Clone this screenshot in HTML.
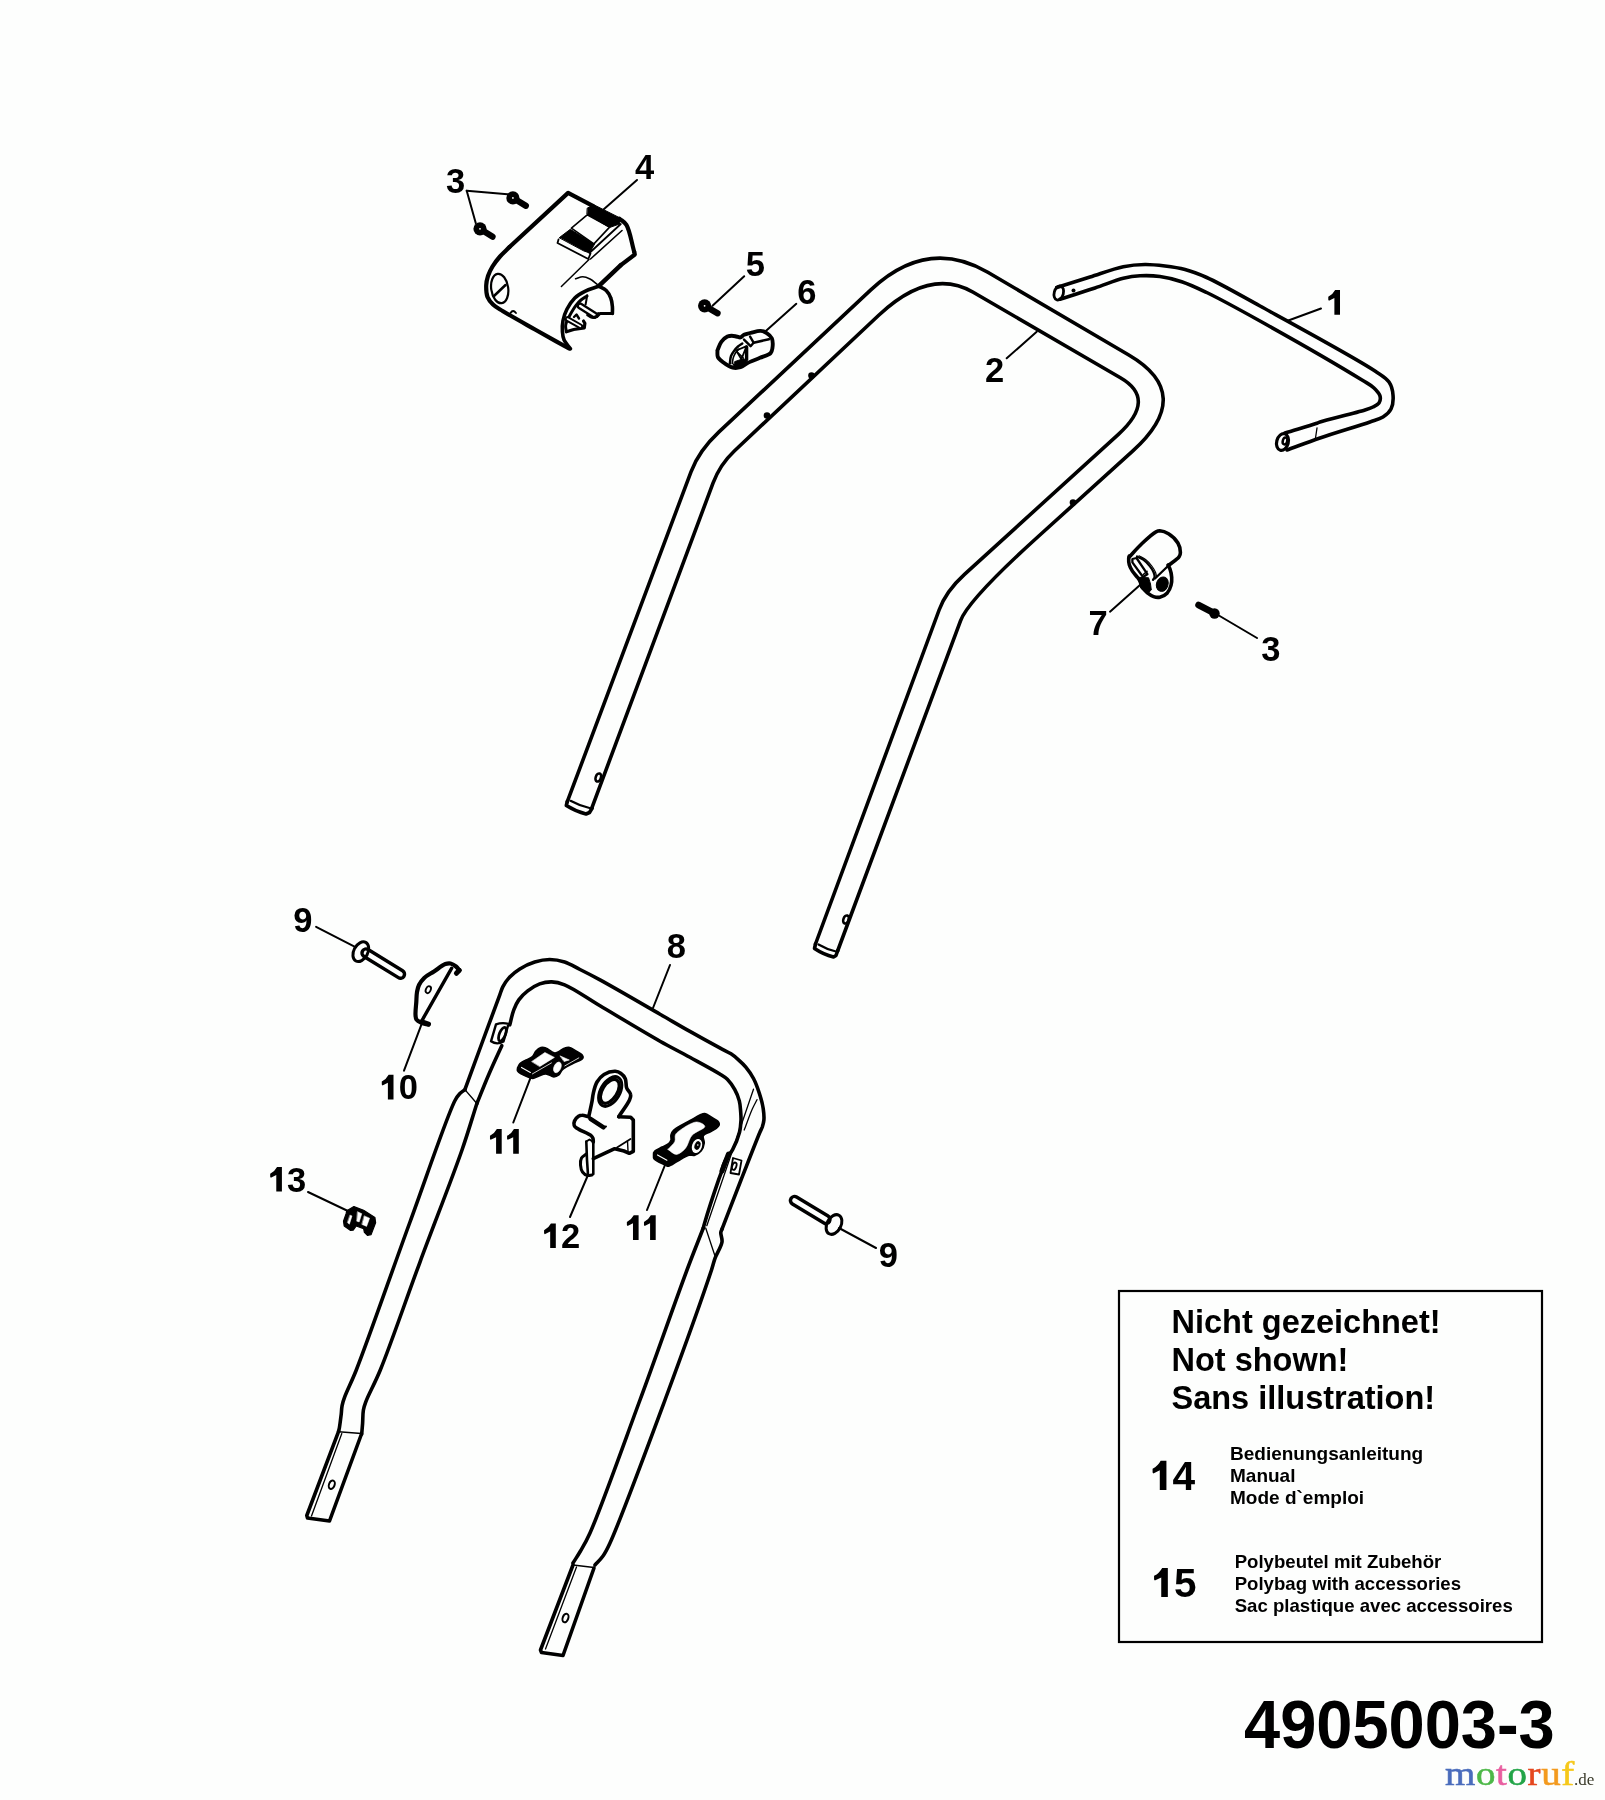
<!DOCTYPE html>
<html><head><meta charset="utf-8"><style>
html,body{margin:0;padding:0;background:#fdfefd;}
body{width:1605px;height:1800px;overflow:hidden;position:relative;font-family:"Liberation Sans",sans-serif;}
svg{position:absolute;left:0;top:0;will-change:transform;}

</style></head><body>
<svg width="1605" height="1800" viewBox="0 0 1605 1800">
<rect width="1605" height="1800" fill="#fdfefd"/>
<path d="M567.3,801.7L691,471.8Q698.9,450.7 719,431.9L870.8,289.9Q927.4,236.9 987.8,272.3L1128.8,355Q1195.7,394.2 1132.6,451.2L1038.8,536Q968.3,599.7 960.5,620.8L837.8,950.5" fill="none" stroke="#000" stroke-width="3.6" stroke-linecap="round" stroke-linejoin="round"/>
<path d="M591.7,808.3L713,483.1Q720,464.4 734.6,450.7L879,315Q930,267.1 973.2,292.2L1120.4,377.7Q1157.2,399 1118.4,434.3L964.5,574.4Q946,591.2 939.1,610L815.5,944" fill="none" stroke="#000" stroke-width="3.6" stroke-linecap="round" stroke-linejoin="round"/>
<path d="M567.3,801.5 L566.3,805.5 Q576,811.5 586,814 L589.5,812.5 L592.2,808" fill="none" stroke="#000" stroke-width="3.6" stroke-linecap="round" stroke-linejoin="round"/>
<path d="M570.5,800.8 Q580,806 589.5,808" fill="none" stroke="#000" stroke-width="2.2" stroke-linecap="round" stroke-linejoin="round"/>
<path d="M815.5,944 L814.5,948.5 Q823.5,954.5 833.5,957 L836,955.5 L837.8,950.5" fill="none" stroke="#000" stroke-width="3.6" stroke-linecap="round" stroke-linejoin="round"/>
<path d="M818.5,944.5 Q827,949.5 836,951.5" fill="none" stroke="#000" stroke-width="2.2" stroke-linecap="round" stroke-linejoin="round"/>
<ellipse cx="598.3" cy="777.5" rx="2.6" ry="4.2" transform="rotate(20 598.3 777.5)" fill="none" stroke="#000" stroke-width="2.6"/>
<ellipse cx="846" cy="919.5" rx="2.6" ry="4.2" transform="rotate(20 846 919.5)" fill="none" stroke="#000" stroke-width="2.6"/>
<circle cx="811.5" cy="375.5" r="3.3" fill="#000"/>
<circle cx="767" cy="415.5" r="3.3" fill="#000"/>
<circle cx="1073" cy="502.5" r="3.3" fill="#000"/>
<path d="M1056.7,287.5C1067.8,284 1078.9,280.5 1090,277C1101.1,273.5 1113.3,268.7 1123.3,266.7C1131.2,265.1 1137.9,264.6 1145,264.5C1151.8,264.4 1158.4,265.2 1165,266C1171.7,266.8 1178.3,267.7 1185,269.5C1192.2,271.4 1198,273.6 1206.7,277.5C1220.7,283.8 1238.9,294.4 1260,306C1291.1,323.1 1355.4,357.9 1375,371C1382.2,375.8 1386,377.6 1389,382C1391.6,385.8 1392.7,390.5 1393,395C1393.4,399.5 1392.9,405.2 1391,409C1389.3,412.4 1386.3,414.9 1383,417C1379.4,419.3 1375.8,420 1370,422C1358.8,425.9 1334.9,432.9 1320,438C1307.8,442.2 1298,446 1287,450" fill="none" stroke="#000" stroke-width="3.6" stroke-linecap="round" stroke-linejoin="round"/>
<path d="M1060,299.2C1071.7,295.5 1084,291.7 1095,288C1105,284.7 1115,280.3 1123.3,278.3C1129.5,276.8 1134.2,276.1 1140,275.8C1146.4,275.4 1153.2,275.6 1160,276.5C1167.1,277.5 1174.3,279.2 1181.7,281.7C1189.9,284.4 1196.9,287.8 1206.7,292.5C1221.3,299.5 1239.5,309.6 1260,321C1288.6,336.9 1344.7,369.3 1362,380C1368,383.8 1370.9,385 1374,388C1376.6,390.5 1379.3,393.3 1380,396C1380.6,398.3 1380.2,401.2 1379,403C1377.8,404.8 1375.2,405.9 1373,407C1370.6,408.2 1368.8,408.8 1365,410C1356.1,412.8 1326.9,419.8 1320,422C1317.9,422.7 1318,422.8 1316,423.5C1310.6,425.4 1295.3,429.8 1285,433" fill="none" stroke="#000" stroke-width="3.6" stroke-linecap="round" stroke-linejoin="round"/>
<ellipse cx="1058.8" cy="293" rx="4.6" ry="7.2" transform="rotate(15 1058.8 293)" fill="none" stroke="#000" stroke-width="2.8"/>
<circle cx="1073.5" cy="290.5" r="2" fill="#000"/>
<ellipse cx="1282.5" cy="442" rx="5.8" ry="8.5" transform="rotate(15 1282.5 442)" fill="none" stroke="#000" stroke-width="3.2"/>
<ellipse cx="1285" cy="441" rx="2.2" ry="3.5" transform="rotate(15 1285 441)" fill="none" stroke="#000" stroke-width="2.5"/>
<line x1="1317" y1="428" x2="1315.5" y2="438" stroke="#000" stroke-width="1.3" stroke-linecap="round"/>
<path d="M464.9,1089.6C470.6,1074.1 476.2,1058.7 482,1043C487.9,1027.1 496.3,1004.2 499.8,994.9C501.2,991.1 501.4,989.6 502.8,986.9C504.5,983.6 507,979.9 509.8,976.9C512.7,973.9 516,971.3 519.8,968.9C524.1,966.2 529.6,963.6 534.7,962C539.6,960.5 544.7,959.5 549.7,959.5C554.7,959.5 559.7,960.4 564.6,962C569.8,963.7 574.6,966.8 580,969.5C586.3,972.6 591.6,975.3 600,979.9C614.7,987.9 643.5,1004.7 660,1014.2C671.7,1020.9 679.9,1025.8 689.9,1031.4C699.8,1037 712.2,1043.8 719.8,1047.9C724.4,1050.4 727.7,1051.7 731,1053.8C733.9,1055.7 736.1,1057.6 738.5,1059.8C741.1,1062.1 743.6,1064.4 746,1067.3C748.7,1070.5 751.3,1074.4 753.5,1078.5C755.9,1083 757.8,1088.5 759.4,1093.5C761,1098.4 762.5,1103.7 763.2,1108.4C763.8,1112.5 764.2,1116.6 763.9,1120C763.7,1122.6 763,1124.8 762.3,1127C761.6,1129 761,1129.7 759.8,1132.5C756.4,1140.5 747.3,1164 741,1180C734.6,1196.2 728.3,1212.8 722,1229.2" fill="none" stroke="#000" stroke-width="3.6" stroke-linecap="round" stroke-linejoin="round"/>
<path d="M464.9,1089.6C463.2,1090.9 461.5,1092 459.9,1093.6C458.1,1095.5 457.1,1096.6 455,1100.5C446.9,1115.9 425.6,1179.5 410,1222C392.8,1268.9 367.9,1340.7 356.3,1370C351.3,1382.6 347.2,1390.1 344.8,1396.7C343.4,1400.4 342.7,1402.6 342.1,1405.6C341.5,1408.5 341.6,1411.2 341.2,1414.4C340.7,1418.4 339.9,1424.8 339.4,1427.8C339.1,1429.4 338.9,1430.1 338.6,1431.3" fill="none" stroke="#000" stroke-width="3.6" stroke-linecap="round" stroke-linejoin="round"/>
<path d="M476.9,1103.5C480.9,1093.7 484.8,1083.7 489,1074C493.1,1064.4 497.5,1055.1 501.8,1045.7" fill="none" stroke="#000" stroke-width="3.6" stroke-linecap="round" stroke-linejoin="round"/>
<path d="M509.8,1024.8C511.1,1019.8 512.1,1014.2 513.8,1009.8C515.2,1006.1 516.6,1003 518.8,999.9C521.2,996.6 524.3,993.5 527.7,990.9C531.2,988.2 535.6,985.4 539.7,983.9C543.6,982.5 547.6,981.8 551.7,981.9C555.9,982 559.4,982.8 564.6,984.9C573.7,988.5 586.7,997.9 600,1005.8C617.4,1016.1 643.4,1031.8 660,1041.2C671.6,1047.7 680,1051.8 689.9,1057.3C699.9,1062.8 713.2,1069.9 719.8,1074C723.2,1076.1 725,1077 727.3,1079.3C730,1082 732.8,1086 734.8,1089.7C736.8,1093.3 738.3,1097.1 739.3,1100.9C740.3,1104.6 740.4,1108.7 740.7,1112.1C740.9,1115 741.1,1117.1 741,1120C740.8,1123.7 740.6,1127.9 739.5,1132.3C738.1,1137.7 735,1145.3 732.5,1149.8C730.7,1153 728.5,1154.9 727,1157.5C725.6,1160 724.4,1162.5 723.5,1165C722.6,1167.3 722.3,1169.6 721.5,1172C720.6,1174.6 719.8,1176.4 718.5,1180.2C715.5,1188.9 706.6,1216.3 704.5,1223.4C703.8,1225.7 703.7,1226.5 703.3,1228" fill="none" stroke="#000" stroke-width="3.6" stroke-linecap="round" stroke-linejoin="round"/>
<path d="M728.5,1154 L722,1171" fill="none" stroke="#000" stroke-width="5" stroke-linecap="round" stroke-linejoin="round"/>
<path d="M476.9,1103.5C471.9,1119 468.5,1131.2 462,1150C451.8,1179.4 433.7,1225 420,1262C406.5,1298.3 390.6,1345 380.3,1370C374.7,1383.6 368.9,1393.8 366.1,1401.1C364.7,1404.9 364,1406.7 363.4,1410C362.7,1414 362.9,1419.1 362.6,1423.3C362.3,1427.1 362,1430.4 361.7,1434" fill="none" stroke="#000" stroke-width="3.6" stroke-linecap="round" stroke-linejoin="round"/>
<line x1="464.9" y1="1089.6" x2="476.9" y2="1103.5" stroke="#000" stroke-width="1.4" stroke-linecap="round"/>
<path d="M338.6,1431.3 L306.8,1515.5 L307.5,1518 L329.5,1521 L361.5,1434" fill="none" stroke="#000" stroke-width="3.6" stroke-linecap="round" stroke-linejoin="round"/>
<line x1="341.8" y1="1433.5" x2="311.5" y2="1516" stroke="#000" stroke-width="1.3" stroke-linecap="round"/>
<line x1="338.6" y1="1431.8" x2="361.5" y2="1433.6" stroke="#000" stroke-width="1.5" stroke-linecap="round"/>
<ellipse cx="331.8" cy="1484.7" rx="2.8" ry="4.4" transform="rotate(20 331.8 1484.7)" fill="none" stroke="#000" stroke-width="2"/>
<path d="M703.3,1228C697.9,1242 693.7,1252.1 687,1270C675.2,1301.4 656.1,1356.5 640,1400C623.7,1444.1 600.6,1509.3 590,1533C586,1542 583.6,1545.7 580.5,1551C577.9,1555.5 575.5,1559 573,1563" fill="none" stroke="#000" stroke-width="3.6" stroke-linecap="round" stroke-linejoin="round"/>
<path d="M722,1229.2C721.6,1230.4 720.9,1231.2 720.8,1232.7C720.6,1235 722.5,1238.5 722,1242C721.3,1246.8 716.8,1253.4 715,1258.4C713.5,1262.6 713.4,1264.1 711.5,1270C704.9,1290 681.4,1355.7 665,1400C647.7,1446.6 620.1,1521.1 610,1543C606.9,1549.8 605.7,1552.2 603,1556C600.6,1559.4 597.7,1562 595,1565" fill="none" stroke="#000" stroke-width="3.6" stroke-linecap="round" stroke-linejoin="round"/>
<path d="M573,1565 L540.5,1650 L541.5,1652.5 L563,1655.5 L594,1568" fill="none" stroke="#000" stroke-width="3.6" stroke-linecap="round" stroke-linejoin="round"/>
<line x1="576.5" y1="1567" x2="545.5" y2="1649" stroke="#000" stroke-width="1.3" stroke-linecap="round"/>
<line x1="573" y1="1565" x2="594" y2="1567.5" stroke="#000" stroke-width="1.5" stroke-linecap="round"/>
<ellipse cx="565.5" cy="1618" rx="2.8" ry="4.4" transform="rotate(20 565.5 1618)" fill="none" stroke="#000" stroke-width="2"/>
<line x1="753.5" y1="1089.2" x2="706.8" y2="1225.7" stroke="#000" stroke-width="1.3" stroke-linecap="round"/>
<path d="M757,1099.7C755.4,1102.8 754,1105.2 752.3,1109C749.8,1114.5 746.9,1123 744.2,1130" fill="none" stroke="#000" stroke-width="1.3" stroke-linecap="round" stroke-linejoin="round"/>
<line x1="705.7" y1="1228" x2="715" y2="1256" stroke="#000" stroke-width="1.3" stroke-linecap="round"/>
<path d="M496,1024.3 Q502,1022.3 508.5,1023.8 L503.5,1041.5 Q497,1045.3 491,1041.3 Z" fill="none" stroke="#000" stroke-width="2.4" stroke-linecap="round" stroke-linejoin="round"/>
<ellipse cx="502.4" cy="1034.2" rx="3" ry="7.3" transform="rotate(22 502.4 1034.2)" fill="none" stroke="#000" stroke-width="2.8"/>
<path d="M733,1158 L741.5,1160.5 L739,1174.5 L730.5,1173 Z" fill="none" stroke="#000" stroke-width="1.8" stroke-linecap="round" stroke-linejoin="round"/>
<ellipse cx="734.3" cy="1166.2" rx="2" ry="3.8" transform="rotate(20 734.3 1166.2)" fill="none" stroke="#000" stroke-width="1.8"/>
<line x1="466.7" y1="190.8" x2="507.5" y2="194.2" stroke="#000" stroke-width="2.0" stroke-linecap="round"/>
<line x1="466.7" y1="190.8" x2="475.8" y2="223.3" stroke="#000" stroke-width="2.0" stroke-linecap="round"/>
<line x1="637" y1="180" x2="603.5" y2="209.5" stroke="#000" stroke-width="2.0" stroke-linecap="round"/>
<line x1="744.2" y1="276.3" x2="712.5" y2="305.8" stroke="#000" stroke-width="2.0" stroke-linecap="round"/>
<line x1="796.3" y1="303.8" x2="765" y2="331.7" stroke="#000" stroke-width="2.0" stroke-linecap="round"/>
<line x1="1006.7" y1="358.3" x2="1036.7" y2="331.7" stroke="#000" stroke-width="2.0" stroke-linecap="round"/>
<line x1="1287" y1="321" x2="1321" y2="308.5" stroke="#000" stroke-width="2.0" stroke-linecap="round"/>
<line x1="1110" y1="611.7" x2="1140" y2="585" stroke="#000" stroke-width="2.0" stroke-linecap="round"/>
<line x1="1218" y1="615" x2="1257" y2="638" stroke="#000" stroke-width="2.0" stroke-linecap="round"/>
<line x1="316.1" y1="926.8" x2="356" y2="947.3" stroke="#000" stroke-width="2.0" stroke-linecap="round"/>
<line x1="670" y1="965" x2="653" y2="1008" stroke="#000" stroke-width="2.0" stroke-linecap="round"/>
<line x1="421.4" y1="1024.6" x2="404" y2="1070.7" stroke="#000" stroke-width="2.0" stroke-linecap="round"/>
<line x1="530.2" y1="1078.6" x2="513.3" y2="1122.5" stroke="#000" stroke-width="2.0" stroke-linecap="round"/>
<line x1="308" y1="1192" x2="350" y2="1212" stroke="#000" stroke-width="2.0" stroke-linecap="round"/>
<line x1="570" y1="1217" x2="588" y2="1175" stroke="#000" stroke-width="2.0" stroke-linecap="round"/>
<line x1="647" y1="1210" x2="665" y2="1165" stroke="#000" stroke-width="2.0" stroke-linecap="round"/>
<line x1="839" y1="1228" x2="876" y2="1248" stroke="#000" stroke-width="2.0" stroke-linecap="round"/>
<text x="445.9" y="193.1" font-family="Liberation Sans" font-weight="bold" font-size="34.5">3</text>
<text x="634.9" y="179.1" font-family="Liberation Sans" font-weight="bold" font-size="34.5">4</text>
<text x="745.8" y="276.3" font-family="Liberation Sans" font-weight="bold" font-size="34.5">5</text>
<text x="797.2" y="303.6" font-family="Liberation Sans" font-weight="bold" font-size="34.5">6</text>
<text x="985.1" y="381.7" font-family="Liberation Sans" font-weight="bold" font-size="34.5">2</text>
<path d="M0.243,0 L0.243,-0.481 L0.085,-0.405 L0.066,-0.43 L0.066,-0.52 Q0.2,-0.59 0.265,-0.716 L0.406,-0.716 L0.406,0 Z" transform="translate(1326 314.7) scale(34.5)" fill="#000"/>
<text x="1088.5" y="635.1" font-family="Liberation Sans" font-weight="bold" font-size="34.5">7</text>
<text x="1261.2" y="660.9" font-family="Liberation Sans" font-weight="bold" font-size="34.5">3</text>
<text x="293.3" y="932.4" font-family="Liberation Sans" font-weight="bold" font-size="34.5">9</text>
<text x="666.8" y="958.4" font-family="Liberation Sans" font-weight="bold" font-size="34.5">8</text>
<path d="M0.243,0 L0.243,-0.481 L0.085,-0.405 L0.066,-0.43 L0.066,-0.52 Q0.2,-0.59 0.265,-0.716 L0.406,-0.716 L0.406,0 Z" transform="translate(379.5 1099.4) scale(34.5)" fill="#000"/>
<text x="398.7" y="1099.4" font-family="Liberation Sans" font-weight="bold" font-size="34.5">0</text>
<path d="M0.243,0 L0.243,-0.481 L0.085,-0.405 L0.066,-0.43 L0.066,-0.52 Q0.2,-0.59 0.265,-0.716 L0.406,-0.716 L0.406,0 Z" transform="translate(487.7 1153.8) scale(34.5)" fill="#000"/>
<path d="M0.243,0 L0.243,-0.481 L0.085,-0.405 L0.066,-0.43 L0.066,-0.52 Q0.2,-0.59 0.265,-0.716 L0.406,-0.716 L0.406,0 Z" transform="translate(504.8 1153.8) scale(34.5)" fill="#000"/>
<path d="M0.243,0 L0.243,-0.481 L0.085,-0.405 L0.066,-0.43 L0.066,-0.52 Q0.2,-0.59 0.265,-0.716 L0.406,-0.716 L0.406,0 Z" transform="translate(267.9 1191.6) scale(34.5)" fill="#000"/>
<text x="287.1" y="1191.6" font-family="Liberation Sans" font-weight="bold" font-size="34.5">3</text>
<path d="M0.243,0 L0.243,-0.481 L0.085,-0.405 L0.066,-0.43 L0.066,-0.52 Q0.2,-0.59 0.265,-0.716 L0.406,-0.716 L0.406,0 Z" transform="translate(541.8 1248.1) scale(34.5)" fill="#000"/>
<text x="561" y="1248.1" font-family="Liberation Sans" font-weight="bold" font-size="34.5">2</text>
<path d="M0.243,0 L0.243,-0.481 L0.085,-0.405 L0.066,-0.43 L0.066,-0.52 Q0.2,-0.59 0.265,-0.716 L0.406,-0.716 L0.406,0 Z" transform="translate(624.6 1239.9) scale(34.5)" fill="#000"/>
<path d="M0.243,0 L0.243,-0.481 L0.085,-0.405 L0.066,-0.43 L0.066,-0.52 Q0.2,-0.59 0.265,-0.716 L0.406,-0.716 L0.406,0 Z" transform="translate(641.7 1239.9) scale(34.5)" fill="#000"/>
<text x="878.8" y="1266.9" font-family="Liberation Sans" font-weight="bold" font-size="34.5">9</text>
<rect x="1119" y="1291" width="423" height="351" fill="none" stroke="#000" stroke-width="2.2"/>
<text x="1171.5" y="1332.5" font-family="Liberation Sans" font-weight="bold" font-size="32.5">Nicht gezeichnet!</text>
<text x="1171.5" y="1370.5" font-family="Liberation Sans" font-weight="bold" font-size="32.5">Not shown!</text>
<text x="1171.5" y="1409" font-family="Liberation Sans" font-weight="bold" font-size="32.5">Sans illustration!</text>
<path d="M0.243,0 L0.243,-0.481 L0.085,-0.405 L0.066,-0.43 L0.066,-0.52 Q0.2,-0.59 0.265,-0.716 L0.406,-0.716 L0.406,0 Z" transform="translate(1149.9 1489.9) scale(40.7)" fill="#000"/>
<text x="1172.5" y="1489.9" font-family="Liberation Sans" font-weight="bold" font-size="40.7">4</text>
<text x="1230" y="1460" font-family="Liberation Sans" font-weight="bold" font-size="19">Bedienungsanleitung</text>
<text x="1230" y="1482" font-family="Liberation Sans" font-weight="bold" font-size="19">Manual</text>
<text x="1230" y="1503.6" font-family="Liberation Sans" font-weight="bold" font-size="19">Mode d`emploi</text>
<path d="M0.243,0 L0.243,-0.481 L0.085,-0.405 L0.066,-0.43 L0.066,-0.52 Q0.2,-0.59 0.265,-0.716 L0.406,-0.716 L0.406,0 Z" transform="translate(1151.4 1596.9) scale(40.5)" fill="#000"/>
<text x="1173.9" y="1596.9" font-family="Liberation Sans" font-weight="bold" font-size="40.5">5</text>
<text x="1234.7" y="1568" font-family="Liberation Sans" font-weight="bold" font-size="18.6">Polybeutel mit Zubehör</text>
<text x="1234.7" y="1590" font-family="Liberation Sans" font-weight="bold" font-size="18.6">Polybag with accessories</text>
<text x="1234.7" y="1612" font-family="Liberation Sans" font-weight="bold" font-size="18.6">Sac plastique avec accessoires</text>
<text x="1244" y="1747.6" font-family="Liberation Sans" font-weight="bold" font-size="65" transform="translate(0 1747.6) scale(1 1.042) translate(0 -1747.6)">4905003-3</text>
<text x="1445" y="1785.4" font-family="Liberation Serif" font-size="39" letter-spacing="0.6" stroke-width="0.6" transform="translate(0 1785.4) scale(1 0.89) translate(0 -1785.4)"><tspan fill="#4a6cbc" stroke="#4a6cbc">m</tspan><tspan fill="#4db848" stroke="#4db848">o</tspan><tspan fill="#e85fa0" stroke="#e85fa0">t</tspan><tspan fill="#22a447" stroke="#22a447">o</tspan><tspan fill="#e5471e" stroke="#e5471e">r</tspan><tspan fill="#f39a1e" stroke="#f39a1e">u</tspan><tspan fill="#f6c81a" stroke="#f6c81a">f</tspan></text>
<text x="1574" y="1785.4" font-family="Liberation Serif" font-size="17" fill="#3a3a2a">.de</text>
<path d="M509.5,247 L568.1,192.9 L592.8,205.8" fill="none" stroke="#000" stroke-width="4.2" stroke-linecap="round" stroke-linejoin="round"/>
<path d="M509.5,247C506.3,250.2 502.9,253.2 500,256.5C497.2,259.7 494.5,263.1 492.5,266.5C490.6,269.6 489.1,272.8 488,276C487,279.1 486.3,282.1 486.2,285.4C486.1,289.1 486.2,293.7 487.5,297C488.7,299.9 490.7,302.3 493,304.5C495.7,307.1 498.7,308.5 503,311.2C510.6,315.9 524.2,323.4 535,329.5C546.1,335.8 557.7,342.2 569,348.5" fill="none" stroke="#000" stroke-width="4.2" stroke-linecap="round" stroke-linejoin="round"/>
<path d="M619.5,218.7C621.8,220.8 624.4,221.7 626.4,224.9C629.9,230.5 631.6,242.8 634.2,251.8" fill="none" stroke="#000" stroke-width="4.2" stroke-linecap="round" stroke-linejoin="round"/>
<path d="M634.2,251.8 L634.8,254.5 L620.8,265.2" fill="none" stroke="#000" stroke-width="4.2" stroke-linecap="round" stroke-linejoin="round"/>
<path d="M620.8,265.2 L599.5,285.4" fill="none" stroke="#000" stroke-width="4.5" stroke-linecap="round" stroke-linejoin="round"/>
<path d="M587.5,208 L593.9,204.8 L620.5,218.2 L619.5,224 L609.6,227.5 L587.2,214.2Z" fill="#000" stroke="#000" stroke-width="1" stroke-linecap="round" stroke-linejoin="round"/>
<path d="M559.5,237.5 L570.3,229.3 L594.5,244.3 L589.4,252.9 L584,251Z" fill="#000" stroke="#000" stroke-width="1" stroke-linecap="round" stroke-linejoin="round"/>
<path d="M571.4,228.2 L587.2,214.8 L609.6,227.1 L593.9,243.9Z" fill="none" stroke="#000" stroke-width="1.6" stroke-linecap="round" stroke-linejoin="round"/>
<path d="M558.5,239.4 L557.5,243 L588.3,259 L590.5,253.5" fill="none" stroke="#000" stroke-width="1.8" stroke-linecap="round" stroke-linejoin="round"/>
<path d="M589.4,253 L620.8,224" fill="none" stroke="#000" stroke-width="1.8" stroke-linecap="round" stroke-linejoin="round"/>
<path d="M590.5,259 L622,230.5" fill="none" stroke="#000" stroke-width="1.6" stroke-linecap="round" stroke-linejoin="round"/>
<line x1="561.4" y1="286.5" x2="589" y2="259.5" stroke="#000" stroke-width="1.5" stroke-linecap="round"/>
<path d="M575.6,278.7C578,278 580.3,276.7 582.7,276.7C585.1,276.7 587.7,277.8 590,279C592.5,280.3 594.8,282.5 597.2,284.3" fill="none" stroke="#000" stroke-width="1.6" stroke-linecap="round" stroke-linejoin="round"/>
<path d="M598.4,286.3C593.9,288 589,289.2 584.9,291.3C581.2,293.2 577.7,295.1 574.8,298C571.7,301.1 568.9,305.4 566.9,309.3C565.1,312.9 563.7,316.7 563,320.5C562.3,324.2 562.1,328.2 562.4,331.7C562.6,334.7 562.9,337.4 564.1,340.1C565.4,343.1 568.4,345.9 570.5,348.8" fill="none" stroke="#000" stroke-width="3.6" stroke-linecap="round" stroke-linejoin="round"/>
<path d="M598.4,286C601,287.5 604.1,288.5 606.2,290.5C608.2,292.5 609.7,295.1 610.7,297.8C611.8,300.5 612.1,303.9 612.4,306.7C612.6,309.1 612.4,311.2 612.4,313.5" fill="none" stroke="#000" stroke-width="3.6" stroke-linecap="round" stroke-linejoin="round"/>
<path d="M612.4,313.5 L600,313.5 L597,316.5" fill="none" stroke="#000" stroke-width="3" stroke-linecap="round" stroke-linejoin="round"/>
<line x1="580.2" y1="306" x2="594.8" y2="315.2" stroke="#000" stroke-width="7" stroke-linecap="round"/>
<line x1="580.2" y1="306" x2="594.8" y2="315.2" stroke="#fdfefd" stroke-width="2.4" stroke-linecap="round"/>
<path d="M587.2,295.2C586.9,296.8 586.7,298.4 586.4,300C586.1,301.5 585.9,303 585.6,304.5" fill="none" stroke="#000" stroke-width="2" stroke-linecap="round" stroke-linejoin="round"/>
<path d="M587,296C585,297.3 582.8,298.5 581,300C579.2,301.5 577.8,303.1 576.2,305.2C574.1,307.9 571.7,312 570,315C568.6,317.5 567.2,319.9 566.5,322C566,323.5 565.7,324.6 565.6,326.1C565.5,327.8 566.1,329.8 566.4,331.7" fill="none" stroke="#000" stroke-width="3" stroke-linecap="round" stroke-linejoin="round"/>
<path d="M566.4,331.7 L573.7,329.5 L584.3,327.8 L584.9,323.3 L583.5,321" fill="none" stroke="#000" stroke-width="3.2" stroke-linecap="round" stroke-linejoin="round"/>
<line x1="567.5" y1="319" x2="580.4" y2="326.3" stroke="#000" stroke-width="5.5" stroke-linecap="round"/>
<line x1="567.5" y1="319" x2="580.4" y2="326.3" stroke="#fdfefd" stroke-width="1.6" stroke-linecap="round"/>
<path d="M574,317 L576.5,314.5 L579,318.5" fill="none" stroke="#000" stroke-width="2.4" stroke-linecap="round" stroke-linejoin="round"/>
<path d="M587.7,314.9C589.1,315.7 590.5,317 592,317.3C593.3,317.5 595,317.2 596.1,316.6C597.1,316 597.6,314.7 598.3,313.7" fill="none" stroke="#000" stroke-width="3" stroke-linecap="round" stroke-linejoin="round"/>
<ellipse cx="499.7" cy="288.5" rx="8.5" ry="14.8" transform="rotate(-8 499.7 288.5)" fill="none" stroke="#000" stroke-width="2.2"/>
<line x1="494" y1="296" x2="505.5" y2="285" stroke="#000" stroke-width="2.5" stroke-linecap="round"/>
<path d="M510.5,313 Q513,309 516,313" fill="none" stroke="#000" stroke-width="1.8" stroke-linecap="round" stroke-linejoin="round"/>
<line x1="512.9" y1="197.9" x2="525.8" y2="205.8" stroke="#000" stroke-width="6.3" stroke-linecap="round"/>
<circle cx="512.9" cy="197.9" r="6.6" fill="#000"/>
<circle cx="512.9" cy="197.9" r="0.9" fill="#fff"/>
<line x1="480" y1="228.8" x2="492.5" y2="236.7" stroke="#000" stroke-width="6.3" stroke-linecap="round"/>
<circle cx="480" cy="228.8" r="6.6" fill="#000"/>
<circle cx="480" cy="228.8" r="0.9" fill="#fff"/>
<line x1="704.6" y1="305.8" x2="717.5" y2="313.3" stroke="#000" stroke-width="6.3" stroke-linecap="round"/>
<circle cx="704.6" cy="305.8" r="6.6" fill="#000"/>
<circle cx="704.6" cy="305.8" r="0.9" fill="#fff"/>
<line x1="1198.5" y1="605" x2="1212" y2="612" stroke="#000" stroke-width="6.5" stroke-linecap="round"/>
<circle cx="1214.5" cy="613.5" r="5.2" fill="#000"/>
<path d="M717.4,350.5C718.7,347.6 719.5,344.2 721.3,341.8C722.9,339.6 725.4,337.6 727.4,336.6C728.9,335.9 730.3,335.7 731.8,335.7C733.3,335.7 735,336.2 736.5,336.5C737.9,336.8 739.3,337.7 740.5,337.4C741.8,337.1 742.5,335.5 744,334.8C746.1,333.8 749.3,333.1 752,332.5C754.8,331.8 758,330.7 760.6,330.9C762.8,331.1 764.9,331.9 766.7,333.1C768.6,334.3 770.8,336.1 771.8,338.3C773,340.9 772.8,345.6 772.4,348.3C772.1,350.2 771.9,351.7 770.6,353.1C768.6,355.2 763.7,356.2 760,357.8C755.9,359.6 750.6,361.4 747.1,363.2C744.5,364.5 742.9,366.5 740.5,367.2C738.1,367.9 735.3,368.2 732.7,367.6C729.6,366.9 725.7,364.3 723.1,362.3C721,360.7 718.8,359.1 717.9,357.1C717,355.2 717.6,352.7 717.4,350.5" fill="none" stroke="#000" stroke-width="3.9" stroke-linecap="round" stroke-linejoin="round"/>
<path d="M753.6,342.7 L769,339.2" fill="none" stroke="#000" stroke-width="2.6" stroke-linecap="round" stroke-linejoin="round"/>
<path d="M744,339.6 L750.6,346.2 L753.6,342.7 L750.1,336.6" fill="none" stroke="#000" stroke-width="2.4" stroke-linecap="round" stroke-linejoin="round"/>
<path d="M729.8,363.6C730.2,361.1 730.2,358.3 731,356C731.8,353.9 733.2,352.1 734.4,350.5C735.5,349 736.7,347.7 738,346.5C739.3,345.3 740.9,344.5 742.3,343.5" fill="none" stroke="#000" stroke-width="2.4" stroke-linecap="round" stroke-linejoin="round"/>
<path d="M732.2,363.6C732.6,361.4 732.8,358.9 733.5,357C734.1,355.3 734.9,353.8 735.8,352.5C736.7,351.2 737.9,350.2 739,349" fill="none" stroke="#000" stroke-width="1.6" stroke-linecap="round" stroke-linejoin="round"/>
<path d="M736.2,350.5 L746.6,346.2 L741.4,359.2 L736.2,350.5" fill="none" stroke="#000" stroke-width="1.8" stroke-linecap="round" stroke-linejoin="round"/>
<line x1="736.5" y1="351.5" x2="743.1" y2="357.5" stroke="#000" stroke-width="1.6" stroke-linecap="round"/>
<line x1="746.6" y1="347" x2="746.6" y2="359.5" stroke="#000" stroke-width="3.4" stroke-linecap="round"/>
<path d="M735,361.5 L744,358.5 L747.5,363 L740.5,367.2 L732.7,367.6Z" fill="#000" stroke="#000" stroke-width="1" stroke-linecap="round" stroke-linejoin="round"/>
<path d="M1129.3,557C1133.5,552.5 1137.5,547.7 1142,543.5C1146.4,539.3 1152.7,533.5 1156,531.8C1157.6,531 1158.3,530.8 1159.8,530.8C1162.1,530.9 1165.7,532 1168.5,533.7C1171.8,535.7 1175.9,539.6 1177.9,543C1179.6,545.9 1180.4,549.9 1180.4,552.4C1180.4,554.1 1180.1,555.2 1179.1,556.7C1177.3,559.4 1172,562.6 1168.5,565.5" fill="none" stroke="#000" stroke-width="3.6" stroke-linecap="round" stroke-linejoin="round"/>
<path d="M1168,565C1168.7,566.4 1169.4,567.5 1170,569.2C1170.8,571.4 1171.5,574.6 1171.7,577.3C1171.9,580 1171.7,582.8 1171,585.4C1170.3,588 1169.1,590.9 1167.3,592.9C1165.4,594.9 1162.3,596.7 1159.8,597.2C1157.7,597.7 1155.6,597.3 1153.6,596.6C1151.5,595.9 1149.3,594.4 1147.4,592.9C1145.5,591.3 1143.7,589.3 1142.4,587.3C1141.2,585.4 1140.8,582.8 1139.9,581C1139.1,579.6 1138.4,578.7 1137.4,577.3C1136,575.5 1133.8,573.3 1132.4,571.1C1131.1,569.1 1129.9,566.9 1129.3,564.8C1128.7,562.8 1128.6,560.2 1128.7,558.6C1128.8,557.5 1129.1,556.9 1129.3,556" fill="none" stroke="#000" stroke-width="3.6" stroke-linecap="round" stroke-linejoin="round"/>
<path d="M1132.4,559 L1136.5,558 L1147.4,574.2 L1143,577 L1132.4,562.4Z" fill="none" stroke="#000" stroke-width="2.3" stroke-linecap="round" stroke-linejoin="round"/>
<line x1="1143.3" y1="574.5" x2="1147" y2="571.3" stroke="#000" stroke-width="1.6" stroke-linecap="round"/>
<path d="M1137,556.5C1139.2,557.6 1141.5,558.4 1143.6,559.9C1145.8,561.5 1148.1,563.9 1149.8,566.1C1151.4,568.1 1152.8,570.3 1153.6,572.3C1154.3,574 1154.9,576 1154.6,577.3C1154.4,578.3 1153.5,579 1153,579.8" fill="none" stroke="#000" stroke-width="2.3" stroke-linecap="round" stroke-linejoin="round"/>
<path d="M1139,555.8C1141.2,557 1143.5,557.9 1145.6,559.5C1147.8,561.2 1150.1,563.7 1151.8,566C1153.4,568.1 1154.8,570.4 1155.6,572.5C1156.2,574.2 1156.3,575.7 1156.6,577.3" fill="none" stroke="#000" stroke-width="1.2" stroke-linecap="round" stroke-linejoin="round"/>
<path d="M1138.6,577.3 L1148.6,577.8 L1150.5,584 L1151.3,590 L1147.4,593.5 L1141.1,588.5Z" fill="#000" stroke="#000" stroke-width="1" stroke-linecap="round" stroke-linejoin="round"/>
<line x1="1155" y1="578.5" x2="1167.5" y2="566.5" stroke="#000" stroke-width="2.3" stroke-linecap="round"/>
<ellipse cx="1162.3" cy="584.2" rx="5.8" ry="7.3" transform="rotate(20 1162.3 584.2)" fill="#000" stroke="#000" stroke-width="1"/>
<line x1="366" y1="953" x2="400.5" y2="974.2" stroke="#000" stroke-width="11.5" stroke-linecap="round"/>
<line x1="366" y1="953" x2="400.5" y2="974.2" stroke="#fdfefd" stroke-width="4.6" stroke-linecap="round"/>
<ellipse cx="360.8" cy="951.7" rx="7" ry="10.5" transform="rotate(28 360.8 951.7)" fill="none" stroke="#000" stroke-width="3"/>
<line x1="794.5" y1="1200.5" x2="826" y2="1219.5" stroke="#000" stroke-width="11.5" stroke-linecap="round"/>
<line x1="794.5" y1="1200.5" x2="826" y2="1219.5" stroke="#fdfefd" stroke-width="4.6" stroke-linecap="round"/>
<ellipse cx="834" cy="1224.5" rx="7" ry="10.5" transform="rotate(28 834 1224.5)" fill="none" stroke="#000" stroke-width="3"/>
<path d="M428.5,1024.6C426.2,1024 423.6,1023.6 421.5,1022.7C419.6,1021.9 417.5,1021 416.5,1019.6C415.6,1018.3 415.6,1016.7 415.5,1014.6C415.3,1011.4 416,1006 416.3,1002C416.5,998.5 416.5,995 417,992C417.5,989.4 417.9,987.2 419,985C420.2,982.5 422,980 424.2,977.9C426.8,975.4 430.6,973.7 434,971.5C437.6,969.1 442.1,965.2 445.3,964.1C447.3,963.4 448.8,963.2 450.5,963.5C452.4,963.9 454.5,965.3 456,966.5C457.4,967.6 458.3,969 459.4,970.3" fill="none" stroke="#000" stroke-width="4.2" stroke-linecap="round" stroke-linejoin="round"/>
<line x1="459.3" y1="970.3" x2="456.4" y2="973.3" stroke="#000" stroke-width="5" stroke-linecap="round"/>
<line x1="428.5" y1="1024" x2="422" y2="1021.8" stroke="#000" stroke-width="5" stroke-linecap="round"/>
<line x1="451.7" y1="968.2" x2="421.8" y2="1020.8" stroke="#000" stroke-width="3.4" stroke-linecap="round"/>
<ellipse cx="428.3" cy="989.7" rx="2.4" ry="3.6" transform="rotate(25 428.3 989.7)" fill="none" stroke="#000" stroke-width="1.8"/>
<path d="M517.5,1067.9C518.3,1066.4 518.8,1064.7 520,1063.4C521.4,1061.9 524,1061.1 526,1060C528.1,1058.8 530.7,1058.1 532.4,1056.5C534,1055 534.5,1052.5 535.9,1051C537.3,1049.5 539.1,1048 540.9,1047.5C542.5,1047.1 544.1,1047.4 545.9,1048C548.5,1048.8 551.8,1052.9 554.9,1053C558.1,1053.1 562,1048.8 564.8,1048C566.7,1047.4 568.1,1047.1 569.8,1047.5C571.8,1047.9 573.9,1049.8 576,1051C578.1,1052.3 581.3,1053.5 582.3,1055C583,1056 583.4,1057.3 582.8,1058.4C581.8,1060.4 575.5,1062 572,1064C568.6,1065.9 564.6,1067.7 562.3,1069.9C560.6,1071.5 560.4,1073.7 558.9,1074.9C557.5,1076 555.8,1076.9 553.9,1076.9C551.5,1076.9 548.5,1074 545.9,1073.9C543.5,1073.8 541.2,1075.2 539,1076C536.9,1076.7 534.9,1078.3 532.9,1078.4C531,1078.5 529.4,1077.8 527.4,1076.9C524.5,1075.7 518.6,1072.9 517.5,1070.9C516.9,1069.9 517.5,1068.9 517.5,1067.9" fill="#000" stroke="#000" stroke-width="1.5" stroke-linecap="round" stroke-linejoin="round"/>
<path d="M531.9,1061.4 L544.9,1052.5 L554.4,1057.4 L539.9,1066.4Z" fill="#fdfefd" stroke="#fdfefd" stroke-width="0.6" stroke-linecap="round" stroke-linejoin="round"/>
<ellipse cx="557.4" cy="1067.4" rx="3.4" ry="5.6" transform="rotate(25 557.4 1067.4)" fill="#fdfefd" stroke="#fdfefd" stroke-width="0.6"/>
<path d="M560.3,1056 L569.3,1060 L564.3,1061.4Z" fill="#fdfefd" stroke="#fdfefd" stroke-width="0.6" stroke-linecap="round" stroke-linejoin="round"/>
<line x1="521.5" y1="1067.4" x2="530.4" y2="1072.4" stroke="#fdfefd" stroke-width="1.1" stroke-linecap="round"/>
<line x1="532.4" y1="1073.9" x2="551.4" y2="1062.9" stroke="#fdfefd" stroke-width="0.8" stroke-linecap="round"/>
<line x1="564.8" y1="1065.9" x2="578.8" y2="1057.9" stroke="#fdfefd" stroke-width="0.8" stroke-linecap="round"/>
<path d="M653.5,1152.9C654,1152.2 654.2,1151.6 655,1150.9C656.4,1149.7 659.7,1148.3 662,1147C664.3,1145.8 667.4,1144.8 668.9,1143.4C670,1142.4 670.5,1141.2 670.9,1139.9C671.3,1138.4 670.5,1136.5 670.9,1134.9C671.4,1133.2 672.5,1131.3 673.9,1129.9C675.4,1128.3 677.6,1127.3 679.9,1125.9C682.8,1124.2 686.7,1122.3 690,1120.5C693.3,1118.7 697,1116.2 699.8,1115C701.7,1114.2 703,1113.3 704.8,1113.5C707,1113.7 709.7,1116.1 712,1117.5C714.2,1118.8 717.2,1120 718.3,1121.5C719.1,1122.5 719.5,1123.8 719.3,1124.9C719,1126.1 717.6,1127.3 716.3,1128.4C714.7,1129.7 712.1,1130.8 710,1132C707.8,1133.3 704.2,1134 703.3,1135.9C702.4,1137.7 704.6,1140.5 704.3,1142.9C704,1145.5 702.9,1148.8 701.3,1150.9C699.7,1152.9 697,1154.6 694.8,1155.3C692.9,1155.9 691.1,1154.8 688.9,1155.3C685.7,1156.1 681.5,1159.1 678,1161C674.7,1162.8 670.8,1166.2 668.4,1166.3C667,1166.4 666.4,1165.5 664.9,1164.8C662.2,1163.5 655.6,1161.3 654,1158.8C652.9,1157.1 653.7,1154.9 653.5,1152.9" fill="#000" stroke="#000" stroke-width="1.5" stroke-linecap="round" stroke-linejoin="round"/>
<path d="M667.9,1149.4C670.2,1146.7 673.8,1144.1 674.9,1141.4C675.8,1139.3 674.6,1136.7 675.4,1134.9C676.2,1133.1 677.7,1131.9 679.9,1130.4C683.6,1127.7 692.2,1121.9 696.8,1122C700,1122.1 704.7,1124.6 704.8,1126.4C704.9,1128.8 694.8,1131.9 691.9,1135.4C689.5,1138.2 688.7,1142.4 687.4,1144.9C686.5,1146.5 686.2,1147.6 684.9,1148.9C683,1150.8 679.3,1154.3 676.4,1154.4C673.6,1154.5 670.7,1151.1 667.9,1149.4" fill="#fdfefd" stroke="#fdfefd" stroke-width="0.6" stroke-linecap="round" stroke-linejoin="round"/>
<ellipse cx="697" cy="1146" rx="4.3" ry="6.6" transform="rotate(20 697 1146)" fill="#fdfefd" stroke="#fdfefd" stroke-width="1.2"/>
<ellipse cx="697.5" cy="1145.5" rx="2.6" ry="4.3" transform="rotate(20 697.5 1145.5)" fill="#000" stroke="#000" stroke-width="0.5"/>
<circle cx="697.8" cy="1145" r="0.8" fill="#fdfefd"/>
<line x1="657.5" y1="1154.9" x2="666.9" y2="1160.3" stroke="#fdfefd" stroke-width="1.1" stroke-linecap="round"/>
<path d="M588.7,1116.7C589.8,1111.6 591.2,1105.6 592,1101.3C592.6,1098.2 592.6,1096.2 593.3,1093.3C594.1,1089.8 595.1,1085.2 597,1082C598.8,1079 601.1,1076.3 604,1074.5C607.1,1072.6 612.2,1071.2 615.3,1071.3C617.5,1071.4 619.4,1072.3 621,1073.5C622.7,1074.7 624.3,1076.6 625.3,1078.7C626.4,1081.2 625.7,1085.2 626.7,1088C627.6,1090.5 630.4,1092.5 630.7,1094.7C631,1096.5 630.4,1097.8 629.5,1100C627.8,1104.1 622.3,1111.1 618.7,1116.7" fill="none" stroke="#000" stroke-width="3.6" stroke-linecap="round" stroke-linejoin="round"/>
<path d="M618.7,1116.7 L630.7,1117.3 L633.3,1120 L633.3,1151.3 L629.3,1153.3 L624,1151 L614.7,1148.7 L593.3,1158.7" fill="none" stroke="#000" stroke-width="3.6" stroke-linecap="round" stroke-linejoin="round"/>
<ellipse cx="610.2" cy="1091.5" rx="9.6" ry="16.2" transform="rotate(30 610.2 1091.5)" fill="none" stroke="#000" stroke-width="3"/>
<ellipse cx="609.8" cy="1091.3" rx="7.4" ry="13.3" transform="rotate(32 609.8 1091.3)" fill="none" stroke="#000" stroke-width="3.2"/>
<path d="M588.7,1116.7C586.5,1116.2 583.9,1115.2 582,1115.3C580.6,1115.3 579.6,1115.6 578.5,1116.3C577.1,1117.2 575.2,1119.3 574.5,1121C573.9,1122.4 573.7,1124.3 574.2,1125.5C574.6,1126.7 575.6,1127.3 577,1128.3C579.9,1130.4 589.2,1133.8 591.5,1136C592.5,1136.9 592.7,1137.6 593,1138.5C593.3,1139.5 593.2,1140.8 593.3,1142" fill="none" stroke="#000" stroke-width="3.6" stroke-linecap="round" stroke-linejoin="round"/>
<line x1="590.5" y1="1118.8" x2="603.5" y2="1127.3" stroke="#000" stroke-width="4.5" stroke-linecap="round"/>
<path d="M603.5,1127.3 L606,1126.5" fill="none" stroke="#000" stroke-width="2" stroke-linecap="round" stroke-linejoin="round"/>
<path d="M586.3,1141.5 L587,1160 L588,1175" fill="none" stroke="#000" stroke-width="2.6" stroke-linecap="round" stroke-linejoin="round"/>
<path d="M593.3,1142 L593.3,1158 L593.3,1174" fill="none" stroke="#000" stroke-width="2.6" stroke-linecap="round" stroke-linejoin="round"/>
<path d="M586.3,1141.5 L589.5,1139.5 L593.3,1142" fill="none" stroke="#000" stroke-width="2" stroke-linecap="round" stroke-linejoin="round"/>
<path d="M586.3,1154C584.7,1155.3 582.5,1156.2 581.5,1158C580.5,1159.9 580.3,1162.7 580.5,1165C580.7,1167.4 581.2,1170.2 582.5,1172C583.7,1173.6 585.8,1175.1 587.5,1175.5C589,1175.9 590.5,1175.2 592,1175" fill="none" stroke="#000" stroke-width="3" stroke-linecap="round" stroke-linejoin="round"/>
<path d="M617,1147.5 L630.5,1139" fill="none" stroke="#000" stroke-width="1.8" stroke-linecap="round" stroke-linejoin="round"/>
<path d="M627.5,1141 L628,1151" fill="none" stroke="#000" stroke-width="1.4" stroke-linecap="round" stroke-linejoin="round"/>
<path d="M346.8,1210.7 L353.9,1206.6 L363.6,1210.3 L374.9,1217.4 L375.6,1222.7 L371.1,1234.6 L367.4,1235.4 L364.4,1232.4 L363.6,1228.6 L356.2,1226 L353.2,1230.1 L350.6,1230.5 L344.2,1226 L343.5,1221.2 L346.1,1213.7Z" fill="#000" stroke="#000" stroke-width="1.2" stroke-linecap="round" stroke-linejoin="round"/>
<path d="M350.2,1215.2 L352,1215.9 L349.4,1224.2 L347.6,1222.7Z" fill="#fff" stroke="#fff" stroke-width="0.5" stroke-linecap="round" stroke-linejoin="round"/>
<path d="M357.7,1211.8 L361.8,1213.7 L359.2,1221.9 L356.9,1221.2Z" fill="#fff" stroke="#fff" stroke-width="0.5" stroke-linecap="round" stroke-linejoin="round"/>
<path d="M364.4,1215.9 L369.6,1218.2 L366.6,1226.4 L362.1,1224.5Z" fill="#fff" stroke="#fff" stroke-width="0.5" stroke-linecap="round" stroke-linejoin="round"/>
</svg>
</body></html>
